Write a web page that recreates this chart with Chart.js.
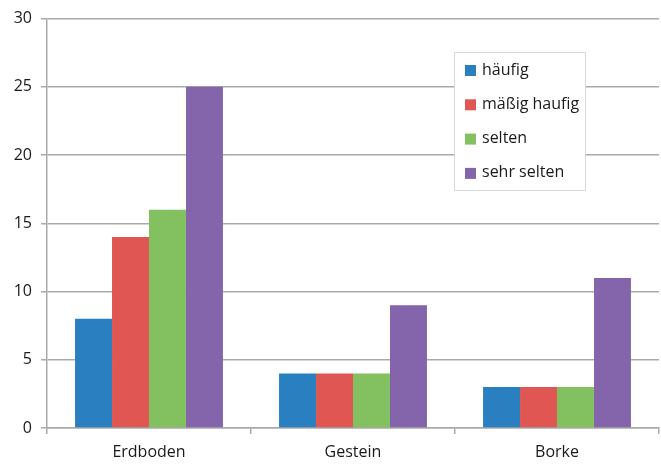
<!DOCTYPE html>
<html>
<head>
<meta charset="utf-8">
<script src="https://cdn.jsdelivr.net/npm/chart.js@4"></script>
<style>
  html, body { margin: 0; padding: 0; background: #fff; }
  #wrap { width: 661px; height: 464px; }
</style>
</head>
<body>
<div id="wrap"><canvas id="graph" width="661" height="464"></canvas></div>
<script>
const categories = ["Erdboden", "Gestein", "Borke"];
const seriesNames = ["häufig", "mäßig haufig", "selten", "sehr selten"];
const haeufig = [8, 4, 3];
const maessigHaufig = [14, 4, 3];
const selten = [16, 4, 3];
const sehrSelten = [25, 9, 11];
const colors = ["#2a7fc0", "#e05653", "#83c05f", "#8465ab"];

const font = "'Open Sans', 'Liberation Sans', sans-serif";
const gridColor = "#a9a9a9";
const textColor = "#1a1a1a";

// legend box drawn inside the plot, like the original
const boxLegend = {
  id: "boxLegend",
  afterDraw(chart) {
    const ctx = chart.ctx;
    const x = 454, y = 52, w = 131, h = 138;
    ctx.save();
    ctx.fillStyle = "#fff";
    ctx.fillRect(x, y, w, h);
    ctx.strokeStyle = "#d9d9d9";
    ctx.lineWidth = 1;
    ctx.strokeRect(x + 0.5, y + 0.5, w, h);
    ctx.font = "16px " + font;
    ctx.textBaseline = "middle";
    chart.data.datasets.forEach((ds, i) => {
      const cy = y + 18 + i * 34.3;
      ctx.fillStyle = ds.backgroundColor;
      ctx.fillRect(x + 11, cy - 5, 11, 11);
      ctx.fillStyle = textColor;
      ctx.fillText(ds.label, x + 28, cy);
    });
    ctx.restore();
  }
};

const ctx = document.getElementById("graph").getContext("2d");
new Chart(ctx, {
  type: "bar",
  data: {
    labels: categories,
    datasets: [haeufig, maessigHaufig, selten, sehrSelten].map((d, i) => ({
      label: seriesNames[i],
      data: d,
      backgroundColor: colors[i],
      barPercentage: 1,
      categoryPercentage: 0.725
    }))
  },
  options: {
    responsive: false,
    animation: false,
    layout: { padding: { top: 15, right: 2, left: 0, bottom: 0 } },
    plugins: { legend: { display: false }, tooltip: { enabled: false } },
    scales: {
      x: {
        afterFit(scale) { scale.height = 36; },
        grid: { offset: true, drawOnChartArea: false, drawTicks: true, tickLength: 6, color: gridColor, lineWidth: 1.5 },
        border: { color: gridColor, width: 1.5 },
        ticks: { color: textColor, font: { family: font, size: 16 }, padding: 9 }
      },
      y: {
        min: 0, max: 30,
        afterFit(scale) { scale.width = 47; },
        grid: { color: gridColor, lineWidth: 1.5, tickLength: 6 },
        border: { color: gridColor, width: 1.5 },
        ticks: { stepSize: 5, color: textColor, font: { family: font, size: 16 }, padding: 9 }
      }
    }
  },
  plugins: [boxLegend]
});
</script>
</body>
</html>
